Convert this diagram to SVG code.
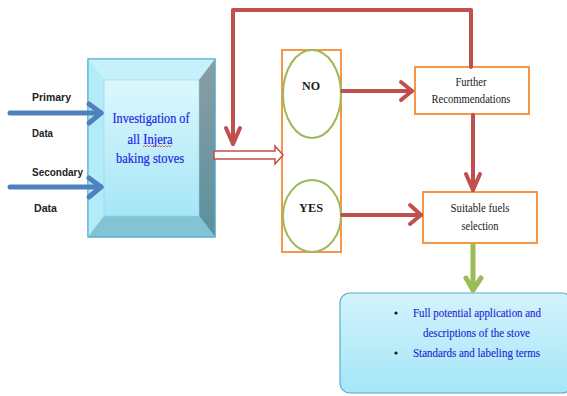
<svg xmlns="http://www.w3.org/2000/svg" width="567" height="396" viewBox="0 0 567 396">
<defs>
<linearGradient id="face" x1="0" y1="0" x2="0" y2="1"><stop offset="0" stop-color="#dcf7fd"/><stop offset="1" stop-color="#a6e6f6"/></linearGradient>
<linearGradient id="rbev" x1="0" y1="0" x2="0" y2="1"><stop offset="0" stop-color="#8a9ea4"/><stop offset="1" stop-color="#5a909f"/></linearGradient>
<linearGradient id="outbox" x1="0" y1="0" x2="0" y2="1"><stop offset="0" stop-color="#d4f3fc"/><stop offset="1" stop-color="#a4e6f8"/></linearGradient>
<style>
.red{fill:none;stroke:#c0504d;stroke-width:4;stroke-linecap:round;stroke-linejoin:round}
.blue{fill:none;stroke:#4f81bd;stroke-width:5;stroke-linecap:round;stroke-linejoin:round}
.green{fill:none;stroke:#9bbb59;stroke-width:5;stroke-linecap:round;stroke-linejoin:round}
.obox{fill:#fff;stroke:#f79646;stroke-width:2}
.ell{fill:#fff;stroke:#9bbb59;stroke-width:2}
.ser{font-family:"Liberation Serif","Times New Roman",serif;font-size:13px;fill:#1a1a1a;text-anchor:middle}
.blu{font-family:"Liberation Serif","Times New Roman",serif;font-size:14px;fill:#2424e6;text-anchor:middle;stroke:#2424e6;stroke-width:0.2}
.bl2{font-family:"Liberation Serif","Times New Roman",serif;font-size:13px;fill:#2424d8;stroke:#2424d8;stroke-width:0.15}
.lab{font-family:"Liberation Sans",Arial,sans-serif;font-size:11px;font-weight:bold;fill:#222}
</style>
</defs>
<g id="investigation">
<rect x="88" y="59" width="127" height="178" fill="#a8e6f6" stroke="#4aaccc" stroke-width="1"/>
<polygon points="88,59 215,59 199,80 104,80" fill="#c6f1fb"/>
<polygon points="88,59 104,80 104,216 88,237" fill="#b4ebf8"/>
<polygon points="215,59 215,237 199,216 199,80" fill="url(#rbev)"/>
<polygon points="88,237 215,237 199,216 104,216" fill="#82c4d4"/>
<rect x="104" y="80" width="95" height="136" fill="url(#face)" stroke="#8fd6ea" stroke-width="0.6"/>
<rect x="88" y="59" width="127" height="178" fill="none" stroke="#4aaccc" stroke-width="1"/>
<text class="blu" x="151" y="123" textLength="77" lengthAdjust="spacingAndGlyphs">Investigation of</text>
<text class="blu" x="150" y="144" textLength="45" lengthAdjust="spacingAndGlyphs">all Injera</text>
<path d="M143,147 l1.5,-1.5 l1.5,1.5 l1.5,-1.5 l1.5,1.5 l1.5,-1.5 l1.5,1.5 l1.5,-1.5 l1.5,1.5 l1.5,-1.5 l1.5,1.5 l1.5,-1.5 l1.5,1.5 l1.5,-1.5 l1.5,1.5 l1.5,-1.5 l1.5,1.5 l1.5,-1.5 l1.5,1.5 l1.5,-1.5" fill="none" stroke="#e03030" stroke-width="0.7"/>
<text class="blu" x="150" y="163" textLength="68" lengthAdjust="spacingAndGlyphs">baking stoves</text>
</g>
<g id="inputs">
<text class="lab" x="32" y="101" textLength="39" lengthAdjust="spacingAndGlyphs">Primary</text>
<text class="lab" x="32" y="137" textLength="21" lengthAdjust="spacingAndGlyphs">Data</text>
<text class="lab" x="32" y="176" textLength="51" lengthAdjust="spacingAndGlyphs">Secondary</text>
<text class="lab" x="34" y="212" textLength="23" lengthAdjust="spacingAndGlyphs">Data</text>
</g>
<g id="decision">
<rect class="obox" x="282" y="50" width="59" height="202" fill="none"/>
</g>
<g id="no">
<ellipse class="ell" cx="312" cy="94" rx="29" ry="44"/>
<text class="ser" x="311" y="90" font-weight="bold" textLength="18" lengthAdjust="spacingAndGlyphs">NO</text>
</g>
<g id="yes">
<ellipse class="ell" cx="312" cy="216" rx="29" ry="36"/>
<text class="ser" x="311" y="212" font-weight="bold" textLength="24" lengthAdjust="spacingAndGlyphs">YES</text>
</g>
<g id="further">
<rect class="obox" x="415" y="67" width="114" height="47"/>
<text class="ser" x="471" y="86" font-size="12" textLength="31" lengthAdjust="spacingAndGlyphs">Further</text>
<text class="ser" x="471" y="103" font-size="12" textLength="79" lengthAdjust="spacingAndGlyphs">Recommendations</text>
</g>
<g id="suitable">
<rect class="obox" x="423" y="192" width="114" height="51"/>
<text class="ser" x="480" y="212" textLength="59" lengthAdjust="spacingAndGlyphs">Suitable fuels</text>
<text class="ser" x="480" y="230" textLength="37" lengthAdjust="spacingAndGlyphs">selection</text>
</g>
<g id="outcome">
<rect x="340" y="293" width="232" height="100" rx="10" fill="url(#outbox)" stroke="#5aaec8" stroke-width="1.2"/>
<circle cx="396" cy="313" r="1.6" fill="#1a1a1a"/>
<text class="bl2" x="413" y="317" textLength="128" lengthAdjust="spacingAndGlyphs">Full potential  application  and</text>
<text class="bl2" x="423" y="337" textLength="107" lengthAdjust="spacingAndGlyphs">descriptions  of the stove</text>
<circle cx="396" cy="353" r="1.6" fill="#1a1a1a"/>
<text class="bl2" x="413" y="357" textLength="127" lengthAdjust="spacingAndGlyphs">Standards and labeling  terms</text>
</g>
<g id="connectors">
<path class="red" d="M471,67 V10 H233 V144"/>
<polyline class="red" points="226,128 233,144 240,128"/>
<path class="red" d="M342,91 H412"/>
<polyline class="red" points="401,82 412,91 401,100"/>
<path class="red" d="M473,115 V190"/>
<polyline class="red" points="466,174 473,190 480,174"/>
<path class="red" d="M342,215 H421"/>
<polyline class="red" points="410,205 421,215 410,224"/>
<path class="green" d="M473,245 V290"/>
<polyline class="green" points="466,278 473,290 481,278"/>
<path class="blue" d="M10,113 H101"/>
<polyline class="blue" points="89,104 101,113 89,123"/>
<path class="blue" d="M10,187 H101"/>
<polyline class="blue" points="89,178 101,187 89,197"/>
<polygon points="214,151 275,151 275,146 283,155 275,164 275,159 214,159" fill="#fff" stroke="#c0504d" stroke-width="1.5"/>
</g>
</svg>
